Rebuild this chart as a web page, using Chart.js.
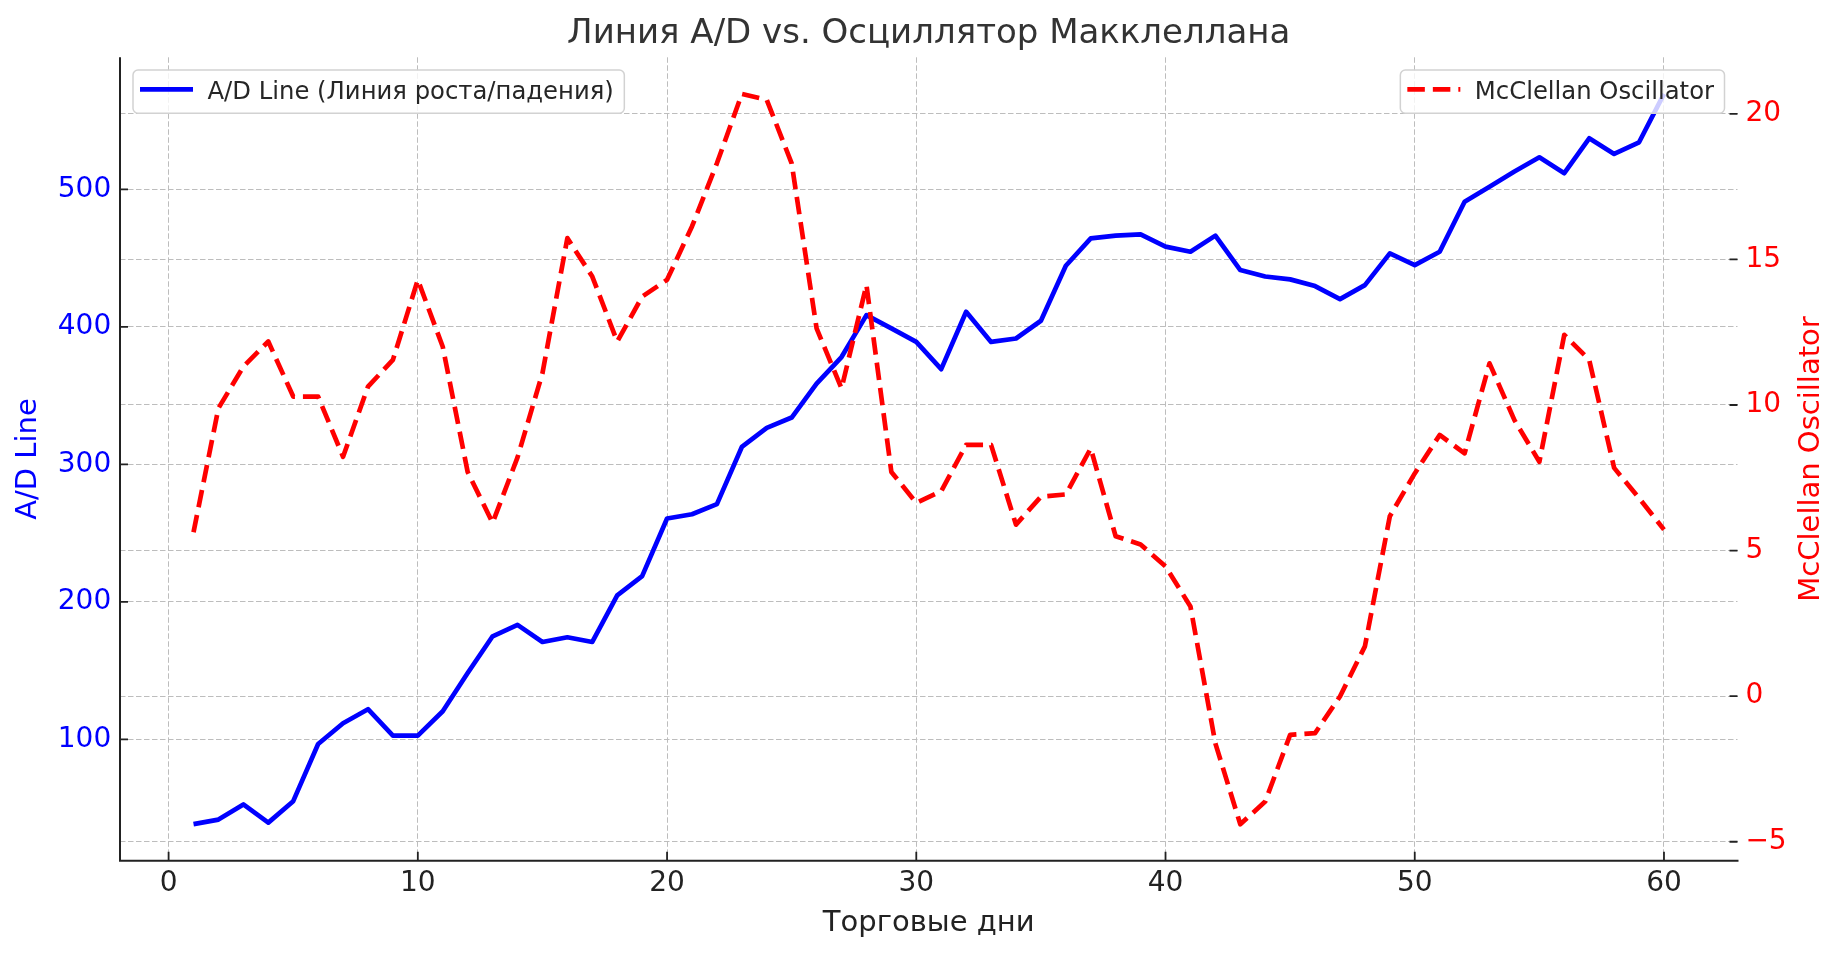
<!DOCTYPE html>
<html lang="ru">
<head>
<meta charset="utf-8">
<title>Линия A/D vs. Осциллятор Макклеллана</title>
<script src="https://cdn.jsdelivr.net/npm/chart.js@4.4.1/dist/chart.umd.min.js"></script>
<style>
  html, body { margin: 0; padding: 0; background: #fff; }
  #wrap { width: 1843px; height: 953px; }
</style>
</head>
<body>
<div id="wrap"><canvas id="chart" width="1843" height="953"></canvas></div>
<script>
// trading days 1..60
const days = [
  1, 2, 3, 4, 5, 6, 7, 8, 9, 10, 11, 12, 13, 14, 15, 16, 17, 18, 19, 20,
  21, 22, 23, 24, 25, 26, 27, 28, 29, 30, 31, 32, 33, 34, 35, 36, 37, 38, 39, 40,
  41, 42, 43, 44, 45, 46, 47, 48, 49, 50, 51, 52, 53, 54, 55, 56, 57, 58, 59, 60
];

// A/D line (left axis)
const adLine = [
  38.3, 41.6, 52.6, 39.4, 55.0, 96.6, 111.7, 121.9, 102.7, 102.7,
  120.4, 148.2, 174.9, 183.2, 170.8, 174.2, 170.8, 204.6, 218.7, 260.6,
  263.7, 271.0, 312.6, 326.5, 334.0, 358.7, 378.0, 408.5, 398.8, 389.0,
  369.2, 410.9, 389.0, 391.5, 404.4, 444.4, 464.3, 466.3, 467.2, 458.3,
  454.6, 466.3, 441.3, 436.6, 434.5, 429.6, 420.1, 430.3, 453.4, 444.9,
  454.6, 491.0, 501.9, 512.9, 523.3, 511.7, 537.1, 525.7, 534.2, 569.4
];

// McClellan oscillator (right axis)
const mcclellan = [
  5.63, 9.89, 11.32, 12.18, 10.29, 10.29, 8.22, 10.63, 11.55, 14.30,
  12.00, 7.70, 5.95, 8.20, 11.09, 15.73, 14.41, 12.18, 13.72, 14.30,
  16.13, 18.30, 20.68, 20.48, 18.30, 12.63, 10.57, 14.12, 7.70, 6.64,
  7.04, 8.63, 8.63, 5.89, 6.85, 6.93, 8.51, 5.49, 5.21, 4.46,
  3.08, -1.62, -4.40, -3.62, -1.33, -1.27, -0.01, 1.71, 6.18, 7.65,
  8.97, 8.34, 11.43, 9.48, 8.05, 12.41, 11.55, 7.84, 6.80, 5.72
];

const xTicks = [0, 10, 20, 30, 40, 50, 60];
const adTicks = [100, 200, 300, 400, 500];
const oscTicks = [-5, 0, 5, 10, 15, 20];

const titleText = 'Линия A/D vs. Осциллятор Макклеллана';
const xTitle = 'Торговые дни';
const adTitle = 'A/D Line';
const oscTitle = 'McClellan Oscillator';
const adLabel = 'A/D Line (Линия роста/падения)';
const oscLabel = 'McClellan Oscillator';

// plot frame in page pixels
const W = 1843, H = 953;
const AREA = { left: 120, right: 1737.5, top: 57.3, bottom: 860.7 };

const FONT = "'DejaVu Sans', sans-serif";
const GRID = '#bdbdbd';
Chart.defaults.font.family = FONT;

const toTicks = vals => vals.map(v => ({ value: v }));
const minus = v => (v < 0 ? '\u2212' + Math.abs(v) : String(v));

// left/bottom spines and inward tick marks
const spines = {
  id: 'spines',
  beforeDatasetsDraw(chart) {
    const { ctx, chartArea: a, scales } = chart;
    ctx.save();
    ctx.strokeStyle = '#222';
    ctx.lineWidth = 2;
    ctx.beginPath();
    ctx.moveTo(a.left, a.top);
    ctx.lineTo(a.left, a.bottom);
    ctx.lineTo(a.right + 1, a.bottom);
    ctx.stroke();

    ctx.lineWidth = 1.8;
    ctx.beginPath();
    scales.x.ticks.forEach(t => {
      const px = scales.x.getPixelForValue(t.value);
      ctx.moveTo(px, a.bottom);
      ctx.lineTo(px, a.bottom - 9);
    });
    scales.y.ticks.forEach(t => {
      const py = scales.y.getPixelForValue(t.value);
      ctx.moveTo(a.left, py);
      ctx.lineTo(a.left + 8, py);
    });
    scales.y2.ticks.forEach(t => {
      const py = scales.y2.getPixelForValue(t.value);
      ctx.moveTo(a.right, py);
      ctx.lineTo(a.right - 8, py);
    });
    ctx.stroke();
    ctx.restore();
  }
};

// two separate legend boxes, like ax.legend + ax2.legend
function drawLegendBox(ctx, ds, edgeX, top, side) {
  const textW = ctx.measureText(ds.label).width;
  const w = 74.5 + textW + 10.5;
  const h = 43.3;
  const left = side === 'left' ? edgeX : edgeX - w;

  ctx.beginPath();
  ctx.roundRect(left, top, w, h, 5);
  ctx.fillStyle = 'rgba(255,255,255,0.8)';
  ctx.fill();
  ctx.lineWidth = 1.5;
  ctx.strokeStyle = '#d2d2d2';
  ctx.stroke();

  ctx.beginPath();
  ctx.setLineDash(ds.borderDash || []);
  ctx.lineWidth = ds.borderWidth;
  ctx.strokeStyle = ds.borderColor;
  ctx.lineCap = 'butt';
  ctx.moveTo(left + 7, top + 19.3);
  ctx.lineTo(left + 60, top + 19.3);
  ctx.stroke();
  ctx.setLineDash([]);

  ctx.fillStyle = '#262626';
  ctx.textAlign = 'left';
  ctx.textBaseline = 'alphabetic';
  ctx.fillText(ds.label, left + 74.5, top + 29);
}

const legendBoxes = {
  id: 'legendBoxes',
  afterDatasetsDraw(chart) {
    const { ctx, chartArea: a } = chart;
    const sets = chart.data.datasets;
    ctx.save();
    ctx.font = '24.3px ' + FONT;
    drawLegendBox(ctx, sets[0], a.left + 13, a.top + 12.7, 'left');
    drawLegendBox(ctx, sets[1], a.right - 13, a.top + 12.7, 'right');
    ctx.restore();
  }
};

// right axis title reads bottom-to-top
const rightTitle = {
  id: 'rightTitle',
  afterDraw(chart) {
    const { ctx, chartArea: a } = chart;
    ctx.save();
    ctx.translate(a.right + 73.5, (a.top + a.bottom) / 2);
    ctx.rotate(-Math.PI / 2);
    ctx.font = '29px ' + FONT;
    ctx.fillStyle = '#ff0000';
    ctx.textAlign = 'center';
    ctx.textBaseline = 'middle';
    ctx.fillText(oscTitle, 0, 0);
    ctx.restore();
  }
};

new Chart(document.getElementById('chart'), {
  type: 'line',
  data: {
    datasets: [
      {
        label: adLabel,
        data: days.map((d, i) => ({ x: d, y: adLine[i] })),
        yAxisID: 'y',
        borderColor: '#0000ff',
        borderWidth: 4.7,
        borderJoinStyle: 'round',
        pointRadius: 0,
        tension: 0,
        order: 1
      },
      {
        label: oscLabel,
        data: days.map((d, i) => ({ x: d, y: mcclellan[i] })),
        yAxisID: 'y2',
        borderColor: '#ff0000',
        borderWidth: 4.7,
        borderDash: [17.5, 8],
        borderJoinStyle: 'round',
        pointRadius: 0,
        tension: 0,
        order: 0
      }
    ]
  },
  options: {
    responsive: false,
    maintainAspectRatio: false,
    animation: false,
    events: [],
    layout: { padding: 0 },
    plugins: {
      legend: { display: false },
      tooltip: { enabled: false },
      title: {
        display: true,
        text: titleText,
        fullSize: false,
        color: '#333',
        font: { size: 34, weight: 'normal' },
        padding: { top: 13.5, bottom: 3.0 }
      }
    },
    scales: {
      x: {
        type: 'linear',
        min: -1.95,
        max: 62.95,
        afterBuildTicks: s => { s.ticks = toTicks(xTicks); },
        afterFit: s => { s.height = H - AREA.bottom; },
        grid: { color: GRID, lineWidth: 1, drawTicks: false },
        border: { display: false, dash: [5.5, 2.5] },
        ticks: { color: '#222', font: { size: 28 }, padding: 6.7, maxRotation: 0 },
        title: {
          display: true,
          text: xTitle,
          color: '#222',
          font: { size: 29 },
          padding: { top: 0, bottom: 11.8 }
        }
      },
      y: {
        type: 'linear',
        position: 'left',
        min: 11.7,
        max: 596,
        afterBuildTicks: s => { s.ticks = toTicks(adTicks); },
        afterFit: s => { s.width = AREA.left; },
        grid: { color: GRID, lineWidth: 1, drawTicks: false },
        border: { display: false, dash: [5.5, 2.5] },
        ticks: { color: '#0000ff', font: { size: 28 }, padding: 8.8 },
        title: {
          display: true,
          text: adTitle,
          color: '#0000ff',
          font: { size: 29 },
          padding: { top: 10.9, bottom: 0 }
        }
      },
      y2: {
        type: 'linear',
        position: 'right',
        min: -5.65,
        max: 21.94,
        afterBuildTicks: s => { s.ticks = toTicks(oscTicks); },
        afterFit: s => { s.width = W - AREA.right; },
        grid: { color: GRID, lineWidth: 1, drawTicks: false },
        border: { display: false, dash: [5.5, 2.5] },
        ticks: { color: '#ff0000', font: { size: 28 }, padding: 7.9, callback: v => minus(v) }
      }
    }
  },
  plugins: [spines, legendBoxes, rightTitle]
});
</script>
</body>
</html>
